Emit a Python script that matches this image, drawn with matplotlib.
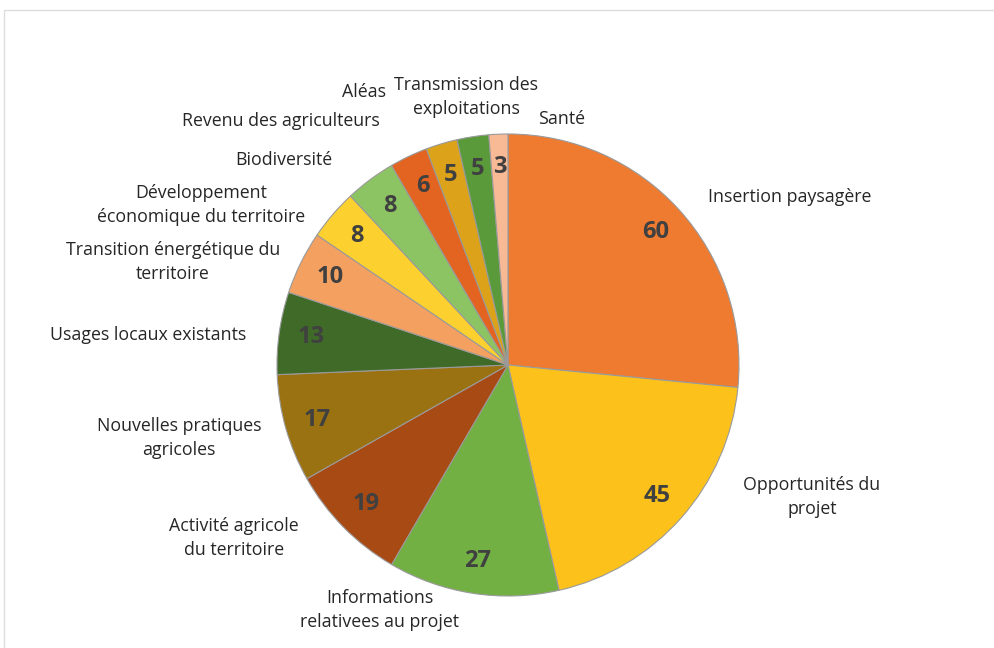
import matplotlib.pyplot as plt
from matplotlib.patches import Rectangle

plt.rcParams['font.family'] = ['Open Sans', 'DejaVu Sans']

# data
categories = [
    "Insertion paysagère",
    "Opportunités du\nprojet",
    "Informations\nrelativees au projet",
    "Activité agricole\ndu territoire",
    "Nouvelles pratiques\nagricoles",
    "Usages locaux existants",
    "Transition énergétique du\nterritoire",
    "Développement\néconomique du territoire",
    "Biodiversité",
    "Revenu des agriculteurs",
    "Aléas",
    "Transmission des\nexploitations",
    "Santé",
]
values = [60, 45, 27, 19, 17, 13, 10, 8, 8, 6, 5, 5, 3]
colors = [
    "#EE7B30", "#FCC21B", "#72B043", "#A84A14", "#9A7212", "#3F6A28",
    "#F3A060", "#FCD12F", "#8DC463", "#E26420", "#DBA21A", "#5A9A3A", "#F8B995",
]

# layout: label centres in pixels (x, y from top)
label_pos = [
    (790, 197), (812, 497), (380, 610), (234, 538), (179, 438), (148, 335),
    (173, 262), (201, 205), (284, 160), (281, 121), (364, 92), (466, 97), (562, 119),
]

W, H = 995, 648
fig = plt.figure(figsize=(W / 100, H / 100), dpi=100)
ax = fig.add_axes([0, 0, 1, 1])

total = sum(values)
wedges, _, autotexts = ax.pie(
    values,
    center=(508, H - 365),
    radius=231,
    startangle=90,
    counterclock=False,
    colors=colors,
    wedgeprops=dict(edgecolor="#9a9a9a", linewidth=0.8),
    autopct=lambda p: f"{round(p * total / 100)}",
    pctdistance=0.86,
    textprops=dict(fontsize=17, fontweight="bold", color="#404040"),
)

for text, (x, y) in zip(categories, label_pos):
    ax.text(x, H - y, text, ha="center", va="center", fontsize=12.8,
            color="#262626", linespacing=1.45)

ax.set_xlim(0, W)
ax.set_ylim(0, H)
ax.set_aspect("equal")
ax.axis("off")

# light frame around the chart area
fig.add_artist(Rectangle((4 / W, -0.1), 1.2, (H - 10) / H + 0.1,
                         transform=fig.transFigure, fill=False,
                         edgecolor="#dddddd", linewidth=1))

fig.savefig("out.png", dpi=100)
